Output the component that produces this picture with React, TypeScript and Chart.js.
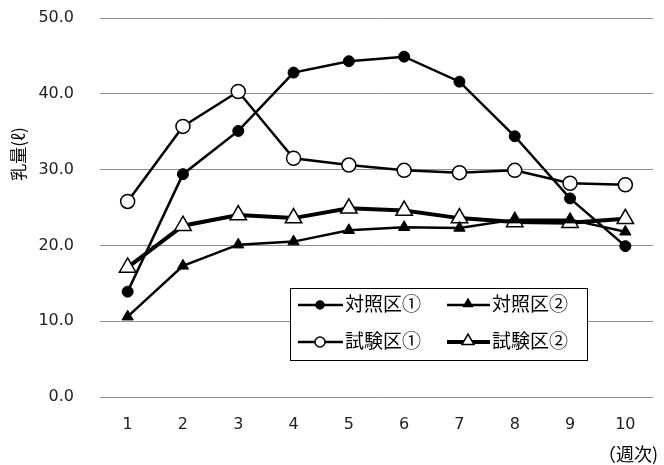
import React, { useEffect, useRef } from "react";
import { Chart, registerables } from "chart.js";

Chart.register(...registerables);

const weeks = ["1", "2", "3", "4", "5", "6", "7", "8", "9", "10"];
const control1 = [13.9, 29.4, 35.1, 42.8, 44.3, 44.9, 41.6, 34.4, 26.2, 19.9];
const test1 = [25.8, 35.7, 40.3, 31.5, 30.6, 29.9, 29.6, 29.9, 28.2, 28.0];
const control2 = [10.6, 17.3, 20.1, 20.5, 22.0, 22.4, 22.3, 23.4, 23.4, 21.8];
const test2 = [17.1, 22.6, 24.0, 23.6, 24.9, 24.6, 23.6, 23.1, 23.0, 23.5];
const seriesNames = ["対照区①", "対照区②", "試験区①", "試験区②"];
const yTitle = "乳量(ℓ)";
const xUnit = "（週次)";

const JP = '"Noto Sans CJK JP", sans-serif';
const NUM = '"DejaVu Sans", sans-serif';

function drawMarker(ctx: CanvasRenderingContext2D, kind: string, x: number, y: number, r: number, filled: boolean) {
  ctx.beginPath();
  if (kind === "circle") {
    ctx.arc(x, y, r, 0, Math.PI * 2);
  } else {
    let a = 0;
    ctx.moveTo(x + Math.sin(a) * r, y - Math.cos(a) * r);
    a += (2 * Math.PI) / 3;
    ctx.lineTo(x + Math.sin(a) * r, y - Math.cos(a) * r);
    a += (2 * Math.PI) / 3;
    ctx.lineTo(x + Math.sin(a) * r, y - Math.cos(a) * r);
    ctx.closePath();
  }
  ctx.fillStyle = filled ? "#000" : "#fff";
  ctx.fill();
  ctx.lineWidth = 1.5;
  ctx.strokeStyle = "#000";
  ctx.stroke();
}

const decorPlugin = {
  id: "decor",
  afterDraw(chart: any) {
    const ctx: CanvasRenderingContext2D = chart.ctx;
    ctx.save();
    // y title
    ctx.fillStyle = "#000";
    ctx.font = "17px " + JP;
    ctx.textAlign = "center";
    ctx.textBaseline = "middle";
    ctx.save();
    ctx.translate(19, 154);
    ctx.rotate(-Math.PI / 2);
    ctx.fillText(yTitle, 0, 0);
    ctx.restore();
    // x unit
    ctx.font = "18px " + JP;
    ctx.textAlign = "right";
    ctx.fillText(xUnit, 658, 454);

    // legend box
    ctx.fillStyle = "#fff";
    ctx.fillRect(290, 288, 298, 73);
    ctx.strokeStyle = "#000";
    ctx.lineWidth = 1;
    ctx.strokeRect(290.5, 288.5, 297, 72);

    const items = [
      { name: seriesNames[0], kind: "circle", filled: true, r: 4, lw: 2.5, x0: 298, x1: 343, mx: 320, tx: 345, y: 305 },
      { name: seriesNames[1], kind: "triangle", filled: true, r: 5, lw: 2.5, x0: 447, x1: 490, mx: 468, tx: 492, y: 305 },
      { name: seriesNames[2], kind: "circle", filled: false, r: 5, lw: 2.5, x0: 298, x1: 343, mx: 320, tx: 345, y: 342 },
      { name: seriesNames[3], kind: "triangle", filled: false, r: 7, lw: 4, x0: 447, x1: 490, mx: 468, tx: 492, y: 342 },
    ];
    for (const it of items) {
      ctx.beginPath();
      ctx.moveTo(it.x0, it.y);
      ctx.lineTo(it.x1, it.y);
      ctx.lineWidth = it.lw;
      ctx.strokeStyle = "#000";
      ctx.stroke();
      drawMarker(ctx, it.kind, it.mx, it.kind === "triangle" ? it.y - 1 : it.y, it.r, it.filled);
      ctx.fillStyle = "#000";
      ctx.font = "19px " + JP;
      ctx.textAlign = "left";
      ctx.textBaseline = "middle";
      ctx.fillText(it.name, it.tx, it.y - 1);
    }
    ctx.restore();
  },
};

export default function App() {
  const ref = useRef<HTMLCanvasElement | null>(null);
  useEffect(() => {
    document.body.style.margin = "0";
    const canvas = ref.current;
    if (!canvas) return;
    const chart = new Chart(canvas, {
      type: "line",
      data: {
        labels: weeks,
        datasets: [
          {
            label: seriesNames[0],
            data: control1,
            borderColor: "#000",
            borderWidth: 2.5,
            pointStyle: "circle",
            pointRadius: 5.5,
            pointBackgroundColor: "#000",
            pointBorderColor: "#000",
            pointBorderWidth: 1,
            tension: 0,
          },
          {
            label: seriesNames[2],
            data: test1,
            borderColor: "#000",
            borderWidth: 2.5,
            pointStyle: "circle",
            pointRadius: 7,
            pointBackgroundColor: "#fff",
            pointBorderColor: "#000",
            pointBorderWidth: 1.5,
            tension: 0,
          },
          {
            label: seriesNames[1],
            data: control2,
            borderColor: "#000",
            borderWidth: 2.5,
            pointStyle: "triangle",
            pointRadius: 6.5,
            pointBackgroundColor: "#000",
            pointBorderColor: "#000",
            pointBorderWidth: 1,
            tension: 0,
          },
          {
            label: seriesNames[3],
            data: test2,
            borderColor: "#000",
            borderWidth: 4,
            pointStyle: "triangle",
            pointRadius: 9.5,
            pointBackgroundColor: "#fff",
            pointBorderColor: "#000",
            pointBorderWidth: 1.5,
            tension: 0,
          },
        ],
      },
      options: {
        responsive: false,
        animation: false,
        layout: { padding: { left: 0, top: 18, right: 2, bottom: 0 } },
        plugins: {
          legend: { display: false },
          tooltip: { enabled: false },
          title: { display: false },
        },
        scales: {
          x: {
            type: "category",
            offset: true,
            grid: { display: false, drawTicks: false },
            border: { display: false },
            ticks: { color: "#222", font: { family: NUM, size: 16 }, padding: 18, maxRotation: 0, autoSkip: false },
            afterFit: (scale: any) => {
              scale.height = 68;
            },
          },
          y: {
            min: 0,
            max: 50,
            grid: {
              color: "#8e8e8e",
              lineWidth: 1,
              drawTicks: true,
              tickLength: 26,
              tickColor: "rgba(0,0,0,0)",
            },
            border: { display: false },
            ticks: {
              stepSize: 10,
              color: "#222",
              font: { family: NUM, size: 16 },
              padding: 0,
              callback: (v: any) => Number(v).toFixed(1),
            },
            afterFit: (scale: any) => {
              scale.width = 100;
            },
          },
        },
      },
      plugins: [decorPlugin],
    });
    return () => chart.destroy();
  }, []);
  return (
    <div style={{ width: 664, height: 465 }}>
      <canvas ref={ref} width={664} height={465} style={{ display: "block" }} />
    </div>
  );
}
